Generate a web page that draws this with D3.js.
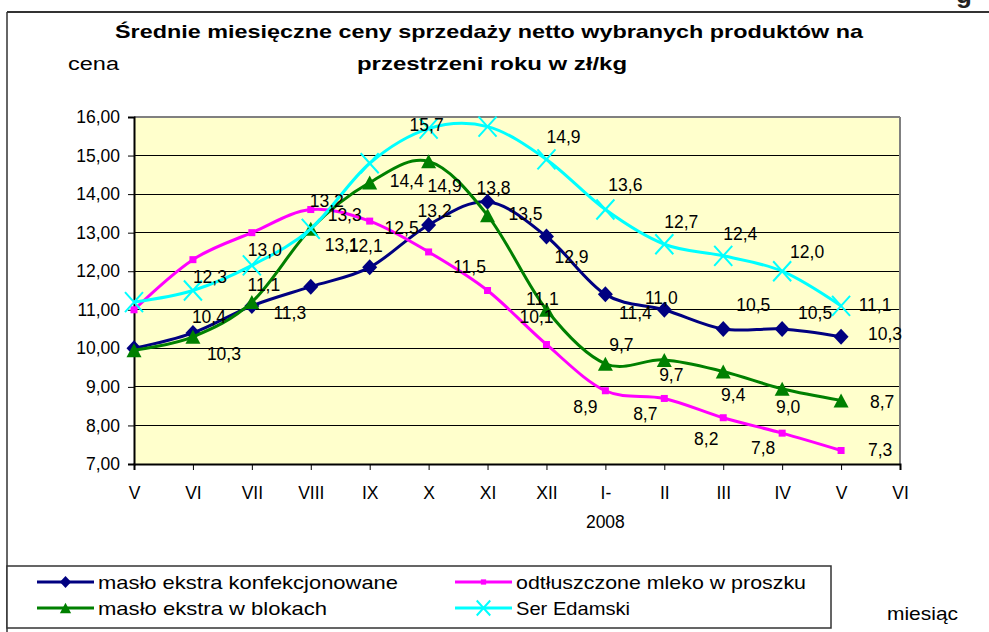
<!DOCTYPE html>
<html>
<head>
<meta charset="utf-8">
<script src="https://cdn.jsdelivr.net/npm/d3@7"></script>
<style>
  html, body { margin: 0; padding: 0; background: #ffffff; }
  svg { display: block; font-family: "Liberation Sans", Arial, sans-serif; }
</style>
</head>
<body>
<svg id="chart" width="989" height="632"></svg>
<script>
// ---- data ----
const months = ["V", "VI", "VII", "VIII", "IX", "X", "XI", "XII", "I-", "II", "III", "IV", "V", "VI"];
const yTicks = [7, 8, 9, 10, 11, 12, 13, 14, 15, 16];

const masloKonf = [10.0, 10.4, 11.1, 11.6, 12.1, 13.2, 13.8, 12.9, 11.4, 11.0, 10.5, 10.5, 10.3];
const mleko     = [11.0, 12.3, 13.0, 13.6, 13.3, 12.5, 11.5, 10.1, 8.9, 8.7, 8.2, 7.8, 7.35];
const masloBlok = [9.95, 10.3, 11.2, 13.1, 14.3, 14.85, 13.45, 11.0, 9.6, 9.7, 9.4, 8.95, 8.65];
const ser       = [11.2, 11.5, 12.15, 13.1, 14.8, 15.7, 15.75, 14.9, 13.6, 12.7, 12.4, 12.0, 11.1];

const masloKonfLabels = [null, "10,4", "11,1", "11,3", "12,1", "13,2", "13,8", "12,9", "11,4", "11,0", "10,5", "10,5", "10,3"];
const mlekoLabels     = [null, "12,3", "13,0", "13,2", "13,3", "12,5", "11,5", "10,1", "8,9", "8,7", "8,2", "7,8", "7,3"];
const masloBlokLabels = [null, "10,3", null, "13,1", "14,4", "14,9", "13,5", "11,1", "9,7", "9,7", "9,4", "9,0", "8,7"];
const serLabels       = [null, null, null, null, null, "15,7", null, "14,9", "13,6", "12,7", "12,4", "12,0", "11,1"];

const seriesNames = ["masło ekstra konfekcjonowane", "odtłuszczone mleko w proszku", "masło ekstra w blokach", "Ser Edamski"];

// ---- layout (label offsets in px relative to the point) ----
const masloKonfOff = [null,[16,-16],[12,-21],[-21,26],[-4,-22],[6,-14],[6,-14],[25,20],[30,18],[-3,-12],[30,-24],[33,-16],[44,-3]];
const mlekoOff     = [null,[17,17],[13,17],[16,-9],[-25,-6],[-27,-24],[-18,-24],[-10,-28],[-20,16],[-19,15],[-17,21],[-19,15],[39,-1]];
const masloBlokOff = [null,[31,17],null,[31,16],[37,-2],[16,24],[38,-2],[-4,-11],[16,-19],[7,15],[10,23],[6,18],[41,1]];
const serOff       = [null,null,null,null,null,[-2,-4],null,[17,-23],[20,-25],[17,-23],[17,-22],[25,-20],[34,-1]];

const series = [
  { name: seriesNames[0], values: masloKonf, labels: masloKonfLabels, off: masloKonfOff, color: "#000080", marker: "diamond" },
  { name: seriesNames[1], values: mleko, labels: mlekoLabels, off: mlekoOff, color: "#FF00FF", marker: "square" },
  { name: seriesNames[2], values: masloBlok, labels: masloBlokLabels, off: masloBlokOff, color: "#008000", marker: "triangle" },
  { name: seriesNames[3], values: ser, labels: serLabels, off: serOff, color: "#00FFFF", marker: "x" }
];

const svg = d3.select("#chart");
const FONT = "'Liberation Sans', Arial, sans-serif";

const pLeft = 134, pRight = 900, pTop = 117, pBottom = 464;
const x = d3.scalePoint().domain(d3.range(months.length)).range([pLeft, pRight]).padding(0);
const y = d3.scaleLinear().domain([7, 16]).range([pBottom, pTop]);

// outer chart border
svg.append("line").attr("x1", 7).attr("x2", 989).attr("y1", 12).attr("y2", 12)
  .attr("stroke", "#333").attr("stroke-width", 2);
svg.append("line").attr("x1", 7).attr("x2", 7).attr("y1", 12).attr("y2", 632)
  .attr("stroke", "#333").attr("stroke-width", 1.5);

// partial text at top right (cut off by the page edge in the reference)
svg.append("text").attr("x", 956).attr("y", 3).attr("font-size", 26).attr("font-weight", "bold")
  .attr("font-family", FONT).attr("fill", "#222").text("g");

// title
svg.append("text").attr("x", 115).attr("y", 38).attr("font-size", 19).attr("font-weight", "bold")
  .attr("font-family", FONT).attr("textLength", 748).attr("lengthAdjust", "spacingAndGlyphs")
  .text("Średnie miesięczne ceny sprzedaży netto wybranych produktów na");
svg.append("text").attr("x", 357).attr("y", 70).attr("font-size", 19).attr("font-weight", "bold")
  .attr("font-family", FONT).attr("textLength", 270).attr("lengthAdjust", "spacingAndGlyphs")
  .text("przestrzeni roku w zł/kg");

// axis titles
svg.append("text").attr("x", 68).attr("y", 70).attr("font-size", 18).attr("font-family", FONT)
  .attr("textLength", 51).attr("lengthAdjust", "spacingAndGlyphs").text("cena");
svg.append("text").attr("x", 887).attr("y", 620).attr("font-size", 19).attr("font-family", FONT)
  .attr("textLength", 71).attr("lengthAdjust", "spacingAndGlyphs").text("miesiąc");

// plot background
svg.append("rect").attr("x", pLeft).attr("y", pTop).attr("width", pRight - pLeft).attr("height", pBottom - pTop)
  .attr("fill", "#FFFFCC");

// gridlines
svg.append("g").selectAll("line").data(yTicks.filter(v => v > 7)).join("line")
  .attr("x1", pLeft).attr("x2", pRight).attr("y1", d => y(d)).attr("y2", d => y(d))
  .attr("stroke", d => d === 16 ? "#808080" : "#000").attr("stroke-width", d => d === 16 ? 2 : 1)
  .attr("shape-rendering", "crispEdges");
svg.append("line").attr("x1", pRight).attr("x2", pRight).attr("y1", pTop).attr("y2", pBottom)
  .attr("stroke", "#808080").attr("stroke-width", 2);

// y axis
const yAxis = svg.append("g").attr("transform", `translate(${pLeft},0)`)
  .call(d3.axisLeft(y).tickValues(yTicks).tickSize(6).tickPadding(8)
    .tickFormat(d => d.toFixed(2).replace(".", ",")));
yAxis.select(".domain").attr("stroke", "#000").attr("stroke-width", 2);
yAxis.selectAll(".tick line").attr("stroke", "#000");
yAxis.selectAll("text").attr("font-size", 17.5).attr("font-family", FONT).attr("fill", "#000");

// x axis
const xAxis = svg.append("g").attr("transform", `translate(0,${pBottom})`)
  .call(d3.axisBottom(x).tickSize(6).tickPadding(17).tickFormat(i => months[i]));
xAxis.select(".domain").attr("stroke", "#000").attr("stroke-width", 2);
xAxis.selectAll(".tick line").attr("stroke", "#000");
xAxis.selectAll("text").attr("font-size", 17.5).attr("font-family", FONT).attr("fill", "#000");
svg.append("text").attr("x", x(8)).attr("y", 528).attr("text-anchor", "middle")
  .attr("font-size", 17.5).attr("font-family", FONT).text("2008");

// markers
function drawMarker(sel, type, color, s) {
  if (type === "diamond") {
    sel.append("path").attr("d", `M0,${-8*s}L${7.5*s},0L0,${8*s}L${-7.5*s},0Z`).attr("fill", color);
  } else if (type === "square") {
    sel.append("rect").attr("x", -3.5*s).attr("y", -3.5*s).attr("width", 7*s).attr("height", 7*s).attr("fill", color);
  } else if (type === "triangle") {
    sel.append("path").attr("d", `M0,${-7*s}L${7.5*s},${7*s}L${-7.5*s},${7*s}Z`).attr("fill", color);
  } else if (type === "x") {
    sel.append("path").attr("d", `M${-9*s},${-10*s}L${9*s},${10*s}M${-9*s},${10*s}L${9*s},${-10*s}`)
      .attr("stroke", color).attr("stroke-width", 2).attr("fill", "none");
  }
}

const line = d3.line().x((d, i) => x(i)).y(d => y(d)).curve(d3.curveCatmullRom.alpha(0));

series.forEach(s => {
  svg.append("path").datum(s.values).attr("d", line).attr("fill", "none")
    .attr("stroke", s.color).attr("stroke-width", 3).attr("stroke-linejoin", "round");
  s.values.forEach((v, i) => {
    const g = svg.append("g").attr("transform", `translate(${x(i)},${y(v)})`);
    drawMarker(g, s.marker, s.color, 1);
  });
});

// data labels
series.forEach(s => {
  s.values.forEach((v, i) => {
    if (!s.labels[i]) return;
    const o = s.off[i];
    svg.append("text").attr("x", x(i) + o[0]).attr("y", y(v) + o[1]).attr("dy", "0.36em")
      .attr("text-anchor", "middle").attr("font-size", 17.5).attr("font-family", FONT)
      .attr("fill", "#000").text(s.labels[i]);
  });
});

// legend
svg.append("rect").attr("x", 7).attr("y", 566).attr("width", 824).attr("height", 62)
  .attr("fill", "#fff").attr("stroke", "#333").attr("stroke-width", 1.5);
const legendPos = [
  { lx: 37, ty: 582, tl: 300 },
  { lx: 455, ty: 582, tl: 290 },
  { lx: 37, ty: 608, tl: 229 },
  { lx: 455, ty: 608, tl: 114 }
];
series.forEach((s, k) => {
  const p = legendPos[k];
  const g = svg.append("g");
  g.append("line").attr("x1", p.lx).attr("x2", p.lx + 57).attr("y1", p.ty).attr("y2", p.ty)
    .attr("stroke", s.color).attr("stroke-width", 3);
  const m = g.append("g").attr("transform", `translate(${p.lx + 28.5},${p.ty})`);
  drawMarker(m, s.marker, s.color, 0.75);
  g.append("text").attr("x", p.lx + 61).attr("y", p.ty + 7).attr("font-size", 19).attr("font-family", FONT)
    .attr("textLength", p.tl).attr("lengthAdjust", "spacingAndGlyphs").text(s.name);
});
</script>
</body>
</html>
